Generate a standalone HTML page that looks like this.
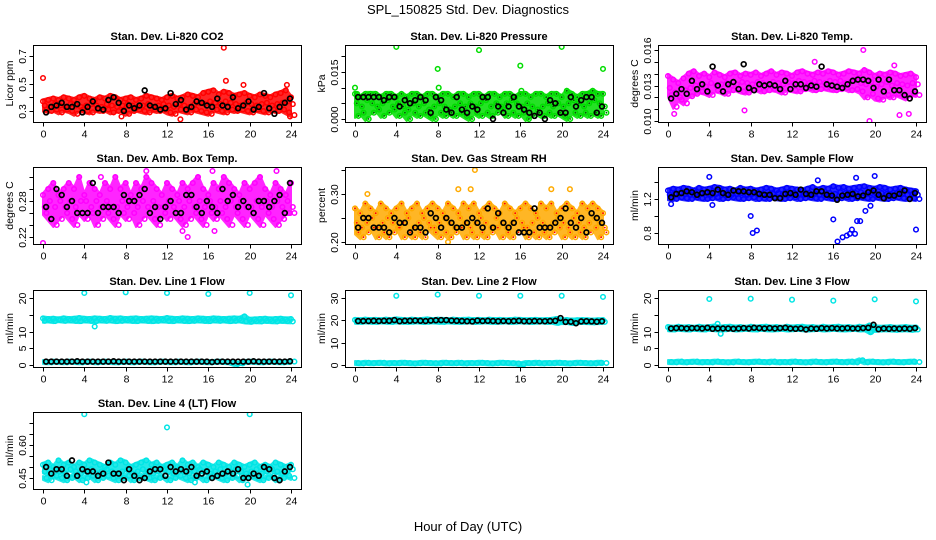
<!DOCTYPE html>
<html><head><meta charset="utf-8"><style>
body{margin:0;background:#fff;}
svg{display:block;font-family:"Liberation Sans",sans-serif;}
</style></head><body>
<svg id="chart" width="936" height="540" viewBox="0 0 936 540" xmlns="http://www.w3.org/2000/svg">
<rect width="936" height="540" fill="#fff"/>
<text x="468" y="14" text-anchor="middle" font-size="13">SPL_150825  Std. Dev. Diagnostics</text>
<text x="468" y="531" text-anchor="middle" font-size="13">Hour of Day (UTC)</text>
</svg>
<script>
// ---- data arrays ----
const xTicks = [0,4,8,12,16,20,24];
const titles = ["Stan. Dev. Li-820 CO2","Stan. Dev. Li-820 Pressure","Stan. Dev. Li-820 Temp.","Stan. Dev. Amb. Box Temp.","Stan. Dev. Gas Stream RH","Stan. Dev. Sample Flow","Stan. Dev. Line 1 Flow","Stan. Dev. Line 2 Flow","Stan. Dev. Line 3 Flow","Stan. Dev. Line 4 (LT) Flow"];
const yLabels = ["Licor ppm","kPa","degrees C","degrees C","percent","ml/min","ml/min","ml/min","ml/min","ml/min"];
const yTickVals = [[0.3,0.4,0.5,0.6,0.7],[0,0.005,0.01,0.015,0.02],[0.010,0.011,0.012,0.013,0.014,0.015,0.016],[0.22,0.24,0.26,0.28,0.30,0.32],[0.20,0.25,0.30,0.35],[0.8,1.0,1.2,1.4],[0,5,10,15,20],[0,10,20,30],[0,5,10,15,20],[0.45,0.50,0.55,0.60,0.65,0.70]];
const yTickText = [["0.3","","0.5","","0.7"],["0.000","","","0.015",""],["0.010","","","0.013","","","0.016"],["0.22","","","0.28","",""],["0.20","","0.30",""],["0.8","","1.2",""],["0","5","10","","20"],["0","10","20","30"],["0","5","10","","20"],["0.45","","","0.60","",""]];

const co2A=[0.37,0.38,0.39,0.38,0.40,0.39,0.38,0.40,0.41,0.39,0.38,0.40,0.39,0.41,0.40,0.38,0.39,0.40,0.38,0.39,0.41,0.40,0.39,0.38,0.40,0.41,0.39,0.40,0.42,0.41,0.40,0.43,0.44,0.45,0.42,0.44,0.43,0.41,0.42,0.43,0.41,0.40,0.42,0.41,0.40,0.42,0.43,0.45,0.40];
const co2B=[0.34,0.33,0.35,0.34,0.33,0.35,0.34,0.33,0.34,0.35,0.34,0.33,0.35,0.34,0.33,0.34,0.35,0.34,0.33,0.34,0.35,0.33,0.34,0.35,0.34,0.33,0.35,0.34,0.33,0.35,0.36,0.35,0.37,0.36,0.35,0.37,0.36,0.35,0.34,0.36,0.35,0.34,0.35,0.36,0.34,0.35,0.36,0.37,0.35];
const co2C=[0.31,0.30,0.31,0.29,0.31,0.30,0.28,0.31,0.30,0.29,0.31,0.30,0.31,0.29,0.30,0.31,0.28,0.30,0.31,0.30,0.29,0.31,0.30,0.31,0.29,0.28,0.31,0.30,0.29,0.31,0.30,0.29,0.28,0.31,0.30,0.29,0.31,0.30,0.31,0.30,0.29,0.31,0.30,0.29,0.31,0.30,0.31,0.29,0.27];
const co2K=[0.29,0.33,0.34,0.36,0.33,0.33,0.35,0.29,0.33,0.37,0.32,0.31,0.38,0.40,0.36,0.30,0.34,0.32,0.34,0.45,0.34,0.33,0.31,0.32,0.43,0.35,0.38,0.31,0.33,0.37,0.36,0.34,0.33,0.39,0.34,0.33,0.40,0.32,0.34,0.37,0.31,0.33,0.43,0.32,0.28,0.33,0.36,0.39];
const co2OX=[0,17.5,17.7,19.4,23.6,13.3,23.9,7.6];
const co2OY=[0.54,0.76,0.52,0.49,0.49,0.24,0.26,0.26];

const prA=[0.008,0.007,0.008,0.008,0.008,0.007,0.008,0.008,0.007,0.008,0.007,0.008,0.008,0.007,0.008,0.008,0.007,0.008,0.008,0.007,0.008,0.008,0.007,0.008,0.008,0.007,0.008,0.008,0.007,0.008,0.008,0.007,0.008,0.008,0.007,0.008,0.008,0.007,0.008,0.008,0.007,0.009,0.008,0.007,0.008,0.008,0.009,0.008,0.008];
const prB=[0.005,0.004,0.006,0.005,0.004,0.005,0.006,0.004,0.005,0.004,0.003,0.005,0.004,0.005,0.003,0.004,0.005,0.004,0.003,0.004,0.005,0.004,0.005,0.004,0.005,0.006,0.004,0.005,0.004,0.005,0.006,0.005,0.004,0.005,0.004,0.003,0.004,0.005,0.004,0.005,0.004,0.005,0.006,0.005,0.004,0.005,0.006,0.005,0.004];
const prC=[0.001,0.002,0.000,0.002,0.003,0.001,0.002,0.003,0.001,0.002,0.000,0.002,0.001,0.002,0.001,0.000,0.002,0.001,0.002,0.001,0.002,0.001,0.000,0.002,0.001,0.002,0.001,0.002,0.003,0.001,0.002,0.001,0.002,0.000,0.001,0.002,0.001,0.002,0.001,0.002,0.001,0.000,0.002,0.001,0.002,0.001,0.002,0.001,0.002];
const prK=[0.007,0.007,0.007,0.007,0.007,0.006,0.007,0.007,0.004,0.006,0.005,0.006,0.007,0.006,0.002,0.007,0.006,0.003,0.002,0.007,0.003,0.002,0.004,0.003,0.007,0.007,0.000,0.004,0.002,0.004,0.007,0.004,0.003,0.002,0.001,0.002,0.000,0.006,0.005,0.002,0.002,0.007,0.004,0.006,0.007,0.007,0.002,0.004];
const prOX=[0,0.2,4,8,8.1,12,16,16.1,20,24,22.7];
const prOY=[0.010,0.008,0.023,0.016,0.010,0.022,0.017,0.009,0.023,0.016,0.008];

const ltA=[0.0138,0.0135,0.0132,0.0136,0.0140,0.0142,0.0138,0.0140,0.0137,0.0141,0.0139,0.0137,0.0140,0.0141,0.0138,0.0140,0.0139,0.0141,0.0138,0.0140,0.0142,0.0139,0.0141,0.0140,0.0138,0.0141,0.0142,0.0140,0.0139,0.0141,0.0140,0.0142,0.0141,0.0139,0.0140,0.0142,0.0141,0.0140,0.0143,0.0141,0.0138,0.0140,0.0139,0.0141,0.0140,0.0138,0.0139,0.0140,0.0137];
const ltB=[0.0128,0.0124,0.0120,0.0126,0.0128,0.0130,0.0131,0.0129,0.0132,0.0130,0.0131,0.0132,0.0130,0.0131,0.0133,0.0132,0.0131,0.0133,0.0132,0.0131,0.0133,0.0132,0.0131,0.0133,0.0132,0.0134,0.0133,0.0132,0.0134,0.0133,0.0132,0.0134,0.0133,0.0134,0.0132,0.0133,0.0135,0.0132,0.0131,0.0133,0.0129,0.0131,0.0133,0.0130,0.0132,0.0131,0.0130,0.0132,0.0131];
const ltC=[0.0122,0.0112,0.0118,0.0115,0.0121,0.0123,0.0125,0.0124,0.0122,0.0126,0.0125,0.0123,0.0126,0.0127,0.0125,0.0124,0.0126,0.0127,0.0125,0.0126,0.0127,0.0126,0.0124,0.0127,0.0126,0.0125,0.0127,0.0128,0.0126,0.0127,0.0128,0.0127,0.0126,0.0127,0.0128,0.0126,0.0127,0.0125,0.0120,0.0123,0.0119,0.0118,0.0122,0.0120,0.0123,0.0121,0.0119,0.0123,0.0122];
const ltK=[0.0119,0.0123,0.0127,0.0123,0.0134,0.0127,0.0131,0.0125,0.0146,0.0130,0.0125,0.0131,0.0133,0.0127,0.0148,0.0128,0.0126,0.0131,0.0130,0.0131,0.0130,0.0127,0.0134,0.0127,0.0131,0.0131,0.0128,0.0130,0.0129,0.0146,0.0131,0.0130,0.0129,0.0128,0.0131,0.0134,0.0135,0.0135,0.0134,0.0128,0.0135,0.0125,0.0135,0.0126,0.0126,0.0122,0.0119,0.0125];
const ltOX=[0.6,7.4,19.5,22.4,23.3,18.9,14.2,21.9];
const ltOY=[0.0106,0.0109,0.0100,0.0105,0.0106,0.0160,0.0150,0.0147];

const abA=[0.29,0.30,0.31,0.29,0.30,0.31,0.30,0.32,0.29,0.31,0.30,0.29,0.31,0.30,0.32,0.30,0.31,0.29,0.31,0.30,0.32,0.31,0.30,0.29,0.31,0.30,0.29,0.31,0.30,0.31,0.32,0.30,0.29,0.31,0.30,0.32,0.31,0.30,0.29,0.31,0.30,0.31,0.32,0.30,0.29,0.31,0.30,0.29,0.31];
const abB=[0.27,0.28,0.27,0.28,0.27,0.28,0.27,0.28,0.28,0.27,0.28,0.27,0.28,0.27,0.27,0.28,0.27,0.28,0.27,0.28,0.27,0.28,0.27,0.27,0.28,0.27,0.28,0.27,0.28,0.27,0.28,0.27,0.28,0.27,0.28,0.27,0.28,0.27,0.28,0.27,0.27,0.28,0.27,0.28,0.27,0.28,0.27,0.28,0.27];
const abC=[0.26,0.25,0.24,0.25,0.26,0.25,0.24,0.26,0.25,0.26,0.24,0.25,0.26,0.25,0.24,0.26,0.25,0.26,0.24,0.25,0.26,0.25,0.24,0.26,0.25,0.26,0.25,0.24,0.25,0.26,0.25,0.24,0.26,0.25,0.26,0.25,0.24,0.26,0.25,0.24,0.26,0.25,0.24,0.26,0.25,0.24,0.25,0.26,0.26];
const abK=[0.27,0.25,0.30,0.29,0.27,0.28,0.26,0.26,0.26,0.31,0.26,0.27,0.27,0.27,0.26,0.29,0.28,0.28,0.29,0.30,0.26,0.27,0.25,0.27,0.28,0.26,0.26,0.29,0.29,0.27,0.26,0.28,0.27,0.26,0.30,0.28,0.29,0.27,0.28,0.27,0.26,0.28,0.28,0.27,0.28,0.29,0.26,0.31];
const abOX=[0,14,16.6,13.5,10,16.4,22.6,5.6];
const abOY=[0.21,0.22,0.23,0.23,0.33,0.33,0.33,0.32];

const rhA=[0.27,0.26,0.28,0.27,0.26,0.28,0.27,0.26,0.27,0.28,0.26,0.27,0.28,0.26,0.27,0.28,0.27,0.26,0.28,0.27,0.26,0.28,0.27,0.28,0.26,0.27,0.28,0.27,0.26,0.28,0.27,0.26,0.27,0.28,0.27,0.26,0.28,0.27,0.28,0.26,0.27,0.28,0.27,0.26,0.28,0.27,0.28,0.27,0.26];
const rhB=[0.24,0.23,0.24,0.25,0.23,0.24,0.25,0.24,0.23,0.24,0.25,0.23,0.24,0.25,0.24,0.23,0.24,0.25,0.24,0.23,0.25,0.24,0.23,0.24,0.25,0.24,0.23,0.25,0.24,0.23,0.24,0.25,0.24,0.23,0.24,0.25,0.24,0.23,0.24,0.25,0.24,0.23,0.25,0.24,0.23,0.24,0.25,0.24,0.23];
const rhC=[0.22,0.21,0.22,0.23,0.21,0.22,0.21,0.22,0.23,0.21,0.22,0.21,0.22,0.21,0.23,0.22,0.21,0.22,0.21,0.22,0.23,0.21,0.22,0.21,0.22,0.21,0.22,0.23,0.21,0.22,0.21,0.22,0.23,0.21,0.22,0.21,0.22,0.21,0.22,0.23,0.21,0.22,0.21,0.22,0.21,0.22,0.23,0.21,0.22];
const rhK=[0.23,0.25,0.25,0.23,0.23,0.23,0.22,0.25,0.24,0.24,0.22,0.23,0.23,0.22,0.26,0.25,0.23,0.25,0.24,0.23,0.23,0.24,0.25,0.24,0.23,0.27,0.23,0.26,0.24,0.23,0.24,0.22,0.22,0.22,0.27,0.23,0.23,0.23,0.24,0.25,0.27,0.24,0.23,0.25,0.22,0.26,0.25,0.24];
const rhOX=[11.6,10,11.2,1.2,20.8,9,19];
const rhOY=[0.35,0.31,0.31,0.30,0.31,0.20,0.31];

const sfA=[1.30,1.32,1.31,1.33,1.32,1.30,1.33,1.31,1.32,1.34,1.33,1.31,1.32,1.30,1.33,1.31,1.32,1.30,1.31,1.33,1.32,1.30,1.31,1.33,1.32,1.31,1.30,1.32,1.34,1.31,1.33,1.32,1.35,1.33,1.34,1.32,1.33,1.34,1.35,1.33,1.32,1.34,1.33,1.31,1.32,1.33,1.31,1.30,1.29];
const sfB=[1.25,1.26,1.27,1.26,1.25,1.27,1.26,1.27,1.25,1.26,1.27,1.26,1.25,1.26,1.27,1.25,1.26,1.27,1.26,1.25,1.26,1.27,1.26,1.25,1.27,1.26,1.25,1.27,1.26,1.25,1.26,1.27,1.26,1.28,1.27,1.26,1.27,1.28,1.26,1.27,1.26,1.27,1.26,1.25,1.27,1.26,1.25,1.26,1.25];
const sfC=[1.21,1.20,1.22,1.21,1.20,1.22,1.21,1.20,1.21,1.22,1.20,1.21,1.22,1.21,1.20,1.21,1.22,1.20,1.21,1.20,1.22,1.21,1.20,1.21,1.22,1.20,1.21,1.22,1.21,1.20,1.22,1.21,1.20,1.21,1.22,1.20,1.21,1.22,1.21,1.20,1.22,1.21,1.20,1.21,1.22,1.21,1.20,1.21,1.20];
const sfK=[1.22,1.26,1.27,1.29,1.28,1.25,1.27,1.28,1.27,1.31,1.27,1.25,1.30,1.29,1.29,1.28,1.28,1.26,1.25,1.25,1.21,1.21,1.26,1.27,1.25,1.31,1.26,1.25,1.29,1.29,1.25,1.24,1.19,1.24,1.25,1.26,1.23,1.24,1.28,1.30,1.25,1.21,1.24,1.24,1.26,1.30,1.20,1.27];
const sfOX=[8,8.2,8.6,4,4.3,16,16.4,16.9,17.3,17.6,17.8,18.1,18.3,18.6,19.1,19.6,20,24,14.5,18.2,0.3];
const sfOY=[1.0,0.80,0.83,1.46,1.13,0.96,0.70,0.75,0.77,0.79,0.84,0.79,0.94,0.94,1.06,1.12,1.47,0.84,1.42,1.45,1.14];

const l1A=[13.9,13.7,13.8,13.6,13.9,13.7,13.8,14.0,13.8,13.7,13.9,13.8,13.7,14.0,13.8,13.9,13.7,13.8,13.9,13.7,13.8,13.9,13.8,13.7,14.0,13.8,13.7,13.9,13.8,13.7,13.9,13.8,13.7,13.9,13.8,13.7,13.8,13.9,13.8,14.5,13.5,13.6,13.7,13.8,13.6,13.7,13.8,13.6,13.7];
const l1B=[13.2,13.3,13.1,13.4,13.2,13.3,13.2,13.1,13.3,13.2,13.1,13.3,13.2,13.3,13.1,13.2,13.3,13.2,13.1,13.3,13.2,13.1,13.2,13.3,13.2,13.1,13.3,13.2,13.1,13.2,13.3,13.2,13.1,13.3,13.2,13.3,13.1,13.2,13.3,13.0,12.9,13.1,13.0,13.2,13.1,13.0,13.2,13.1,13.0];
const l1C=[0.9,0.8,1.0,0.9,0.8,1.0,0.9,0.8,0.9,1.0,0.8,0.9,1.0,0.9,0.8,0.9,1.0,0.8,0.9,1.0,0.9,0.8,0.9,1.0,0.9,0.8,1.0,0.9,0.8,0.9,1.0,0.9,0.8,0.9,1.0,0.9,0.8,0.3,0.5,0.9,1.0,0.9,0.8,0.9,1.0,0.9,0.8,0.9,1.0];
const l1K=[1.0,1.0,1.0,1.0,1.0,1.0,1.1,1.0,1.0,1.0,1.0,1.0,1.0,1.1,1.0,1.0,1.0,1.0,1.0,1.0,1.0,1.0,1.0,1.0,1.0,1.0,1.0,1.0,1.0,1.0,1.0,1.0,0.9,1.0,1.0,1.0,1.0,1.0,1.0,1.0,1.1,1.0,1.0,1.0,1.0,1.0,1.0,1.1];
const l1OX=[4,8,12,16,20,24,5];
const l1OY=[21.5,21.7,21.5,21.2,21.5,20.8,11.5];

const l2A=[20.2,20.0,20.3,20.1,20.2,20.0,20.3,20.1,20.4,20.2,20.0,20.3,20.1,20.2,20.4,20.1,20.3,20.2,20.0,20.3,20.1,20.2,20.3,20.1,20.2,20.0,20.3,20.1,20.2,20.0,20.1,20.3,20.2,20.0,20.1,20.2,20.0,20.1,20.2,20.6,20.0,20.1,19.9,20.0,20.1,20.0,19.9,20.0,20.1];
const l2B=[19.4,19.3,19.5,19.4,19.3,19.5,19.4,19.3,19.5,19.4,19.3,19.4,19.5,19.3,19.4,19.5,19.4,19.3,19.5,19.4,19.3,19.4,19.5,19.3,19.4,19.5,19.4,19.3,19.4,19.5,19.3,19.4,19.5,19.4,19.3,19.4,19.5,19.3,19.4,18.9,19.2,19.3,18.8,19.2,19.3,19.2,19.1,19.2,19.3];
const l2C=[0.9,0.7,1.0,0.8,0.9,1.0,0.7,0.9,0.8,1.0,0.9,0.7,0.8,1.0,0.9,0.8,0.7,1.0,0.9,0.8,1.0,0.7,0.9,0.8,1.0,0.9,0.7,0.8,1.0,0.9,0.8,0.7,0.3,0.9,0.8,1.0,0.7,0.9,0.8,1.0,0.9,0.7,0.8,1.0,0.9,0.8,0.7,1.0,0.9];
const l2K=[19.7,19.7,19.7,19.8,19.7,19.8,19.8,20.1,19.6,19.8,19.8,19.9,19.8,19.7,19.9,20.0,20.1,20.1,19.9,19.8,19.7,19.6,19.5,19.9,19.7,19.8,19.7,19.6,19.7,19.6,19.7,19.8,19.6,19.6,19.7,19.6,19.6,19.7,19.8,21.0,19.3,19.4,18.7,19.5,19.6,19.5,19.4,19.6];
const l2OX=[4,8,12,16,20,24];
const l2OY=[31,31.5,31,31,31,30.5];

const l3A=[11.3,11.1,11.4,11.2,11.3,11.1,11.4,11.2,11.3,11.5,11.2,11.3,11.4,11.2,11.3,11.1,11.4,11.2,11.3,11.4,11.2,11.3,11.1,11.4,11.2,11.3,11.4,11.2,11.3,11.1,11.4,11.2,11.3,11.4,11.2,11.3,11.1,11.4,11.2,11.8,11.3,11.1,11.2,11.3,11.1,11.2,11.3,11.1,11.2];
const l3B=[10.7,10.6,10.8,10.7,10.6,10.8,10.7,10.6,10.8,10.7,10.6,10.7,10.8,10.6,10.7,10.8,10.7,10.6,10.8,10.7,10.6,10.7,10.8,10.6,10.7,10.8,10.7,10.6,10.7,10.8,10.6,10.7,10.8,10.7,10.6,10.7,10.8,10.6,10.7,9.9,10.5,10.6,10.7,10.6,10.5,10.6,10.7,10.5,10.6];
const l3C=[0.9,0.8,1.0,0.8,0.9,1.0,0.8,0.9,0.8,1.0,0.9,0.8,0.8,1.0,0.9,0.8,0.9,1.0,0.9,0.8,1.0,0.8,0.9,0.8,1.0,0.9,0.8,0.8,1.0,0.9,0.8,0.9,1.0,0.9,0.8,1.0,0.8,1.4,0.8,1.0,0.9,0.8,0.8,1.0,0.9,0.8,0.9,1.0,0.9];
const l3K=[10.9,11.0,11.0,10.9,11.0,11.0,10.9,11.1,10.8,10.9,10.9,10.9,10.8,10.9,11.0,10.9,11.1,11.0,10.9,11.0,10.9,11.0,11.1,10.9,10.8,10.9,10.6,10.9,10.8,11.0,10.9,11.0,10.9,10.9,11.0,10.9,10.9,11.0,11.1,12.0,10.7,10.9,10.8,10.9,10.8,10.9,10.8,11.0];
const l3OX=[4,8,12,16,20,24,4.8,5.1,19.6];
const l3OY=[19.7,19.8,19.5,19.2,19.6,19.0,12.3,9.3,9.8];

const l4A=[0.51,0.52,0.50,0.53,0.51,0.52,0.50,0.52,0.51,0.53,0.52,0.51,0.50,0.52,0.51,0.53,0.52,0.50,0.51,0.52,0.53,0.51,0.52,0.50,0.51,0.52,0.50,0.53,0.51,0.52,0.50,0.52,0.51,0.50,0.52,0.51,0.50,0.52,0.51,0.50,0.51,0.52,0.50,0.51,0.50,0.52,0.51,0.50,0.51];
const l4B=[0.48,0.47,0.49,0.48,0.47,0.49,0.48,0.47,0.48,0.49,0.47,0.48,0.49,0.48,0.47,0.48,0.49,0.47,0.48,0.49,0.48,0.47,0.48,0.49,0.48,0.47,0.49,0.48,0.47,0.48,0.49,0.48,0.47,0.48,0.49,0.47,0.48,0.49,0.48,0.47,0.48,0.49,0.47,0.48,0.49,0.48,0.47,0.48,0.49];
const l4C=[0.45,0.44,0.46,0.45,0.44,0.45,0.46,0.44,0.45,0.46,0.44,0.45,0.46,0.45,0.44,0.45,0.46,0.44,0.45,0.46,0.45,0.44,0.45,0.46,0.44,0.45,0.46,0.45,0.44,0.45,0.46,0.44,0.45,0.46,0.45,0.44,0.45,0.46,0.44,0.45,0.46,0.45,0.44,0.45,0.46,0.44,0.45,0.46,0.45];
const l4K=[0.50,0.47,0.49,0.49,0.46,0.53,0.46,0.49,0.48,0.48,0.46,0.47,0.52,0.47,0.47,0.44,0.49,0.46,0.44,0.45,0.48,0.49,0.49,0.46,0.50,0.48,0.49,0.48,0.50,0.46,0.47,0.48,0.45,0.46,0.47,0.48,0.47,0.49,0.45,0.45,0.47,0.46,0.50,0.49,0.45,0.44,0.48,0.50];
const l4OX=[4,20,12,19.8,4.2,14.7];
const l4OY=[0.74,0.74,0.68,0.42,0.43,0.43];

const seriesA=[co2A,prA,ltA,abA,rhA,sfA,l1A,l2A,l3A,l4A];
const seriesB=[co2B,prB,ltB,abB,rhB,sfB,l1B,l2B,l3B,l4B];
const seriesC=[co2C,prC,ltC,abC,rhC,sfC,l1C,l2C,l3C,l4C];
const seriesK=[co2K,prK,ltK,abK,rhK,sfK,l1K,l2K,l3K,l4K];
const outX=[co2OX,prOX,ltOX,abOX,rhOX,sfOX,l1OX,l2OX,l3OX,l4OX];
const outY=[co2OY,prOY,ltOY,abOY,rhOY,sfOY,l1OY,l2OY,l3OY,l4OY];

// ---- layout (not data) ----
const colLeft=[33,345,658], colW=268;
const rowTop=[45,167,290,412], rowH=77;
const yCal=[[0.3,66,0.7,11],[0,74,0.015,27],[0.010,76,0.016,5],[0.22,70,0.28,34],[0.20,75,0.30,27],[0.8,66,1.2,32],[0,75,20,8],[0,75,30,8],[0,75,20,8],[0.45,66,0.60,33]];
const cols=["#ff0000","#00dd00","#ff00ff","#ff00ff","#ffaa00","#0000ff","#00e5e5","#00e5e5","#00e5e5","#00e5e5"];
const dotCols=[null,"#006000",null,null,"#ff0000",null,null,null,null,null];
const NS="http://www.w3.org/2000/svg";
const svg=document.getElementById('chart');
function mk(tag,attrs,parent){const e=document.createElementNS(NS,tag);for(const k in attrs)e.setAttribute(k,attrs[k]);(parent||svg).appendChild(e);return e;}

for(let p=0;p<10;p++){
  const c=p%3, r=Math.floor(p/3);
  const L=colLeft[c], T=rowTop[r];
  const xs=v=>L+10+v*(colW-20)/24;
  const cal=yCal[p];
  const ys=v=>T+cal[1]+(v-cal[0])*(cal[3]-cal[1])/(cal[2]-cal[0]);
  const g=mk('g',{});
  
  
  const clip=mk('clipPath',{id:'cp'+p},g);
  mk('rect',{x:L,y:T,width:colW,height:rowH},clip);
  const pts=mk('g',{'clip-path':'url(#cp'+p+')'},g);
  
  
  const col=cols[p], dc=dotCols[p];
  const A=seriesA[p],B=seriesB[p],C=seriesC[p];
  const lineP=p>=6;
  // dense cloud band
  const bandTop=lineP?A:A.map((v,i)=>Math.max(v,B[i],C[i]));
  const bandBot=lineP?B:A.map((v,i)=>Math.min(v,B[i],C[i]));
  const band=(top,bot)=>{
    const n=top.length;
    let d='';
    top.forEach((v,i)=>{d+=(i?'L':'M')+xs(i*24/(n-1)).toFixed(1)+','+(ys(v)-2).toFixed(1);});
    for(let i=n-1;i>=0;i--){d+='L'+xs(i*24/(n-1)).toFixed(1)+','+(ys(bot[i])+2).toFixed(1);}
    const b=mk('path',{d:d+'Z',fill:col,opacity:0.85,stroke:col,'stroke-width':2,'stroke-linejoin':'round'},pts);
    
    
  };
  band(bandTop,bandBot);
  if(lineP){band(C,C);}
  const drawSeries=(arr,off)=>{
    const n=arr.length;
    arr.forEach((v,i)=>{
      const x=xs(i*24/(n-1)+off), y=ys(v);
      const ci=mk('circle',{cx:x.toFixed(1),cy:y.toFixed(1),r:2.3,fill:'none',stroke:col,'stroke-width':1.5},pts);
      
      
      if(dc){mk('circle',{cx:x.toFixed(1),cy:y.toFixed(1),r:0.9,fill:dc},pts);}
    });
  };
  drawSeries(A,0); drawSeries(B,0.17); drawSeries(C,0.33);
  outX[p].forEach((x,i)=>{
    const ci=mk('circle',{cx:xs(x).toFixed(1),cy:ys(outY[p][i]).toFixed(1),r:2.3,fill:'none',stroke:col,'stroke-width':1.5},pts);
    
    
  });
  const k=seriesK[p];
  k.forEach((v,i)=>{
    const x=0.3+i*23.6/(k.length-1);
    const ci=mk('circle',{cx:xs(x).toFixed(1),cy:ys(v).toFixed(1),r:2.4,fill:'none',stroke:'#000','stroke-width':1.7},pts);
    
    
  });
  const box=mk('rect',{x:L+0.5,y:T+0.5,width:colW,height:rowH,fill:'none',stroke:'#000','stroke-width':1},g);
  
  
  const t=mk('text',{x:L+colW/2,y:T-5,'text-anchor':'middle','font-size':11,'font-weight':'bold'},g);
  t.textContent=titles[p];
  
  
  const Bt=T+rowH+0.5;
  xTicks.forEach(v=>{
    const x=Math.round(xs(v))+0.5;
    mk('line',{x1:x,y1:Bt,x2:x,y2:Bt+4,stroke:'#000'},g);
    const tx=mk('text',{x:x,y:Bt+15,'text-anchor':'middle','font-size':10.5},g);
    tx.textContent=v;
    
    
  });
  yTickVals[p].forEach((v,i)=>{
    const y=Math.round(ys(v))+0.5;
    mk('line',{x1:L+0.5,y1:y,x2:L-3.5,y2:y,stroke:'#000'},g);
    if(yTickText[p][i]){
      const tx=mk('text',{x:0,y:0,'text-anchor':'middle','font-size':10.5,transform:`translate(${L-7},${y}) rotate(-90)`},g);
      tx.textContent=yTickText[p][i];
      
      
    }
  });
  const yl=mk('text',{x:0,y:0,'text-anchor':'middle','font-size':10.5,transform:`translate(${L-20},${T+rowH/2}) rotate(-90)`},g);
  yl.textContent=yLabels[p];
  
  
}
</script>
</body></html>
